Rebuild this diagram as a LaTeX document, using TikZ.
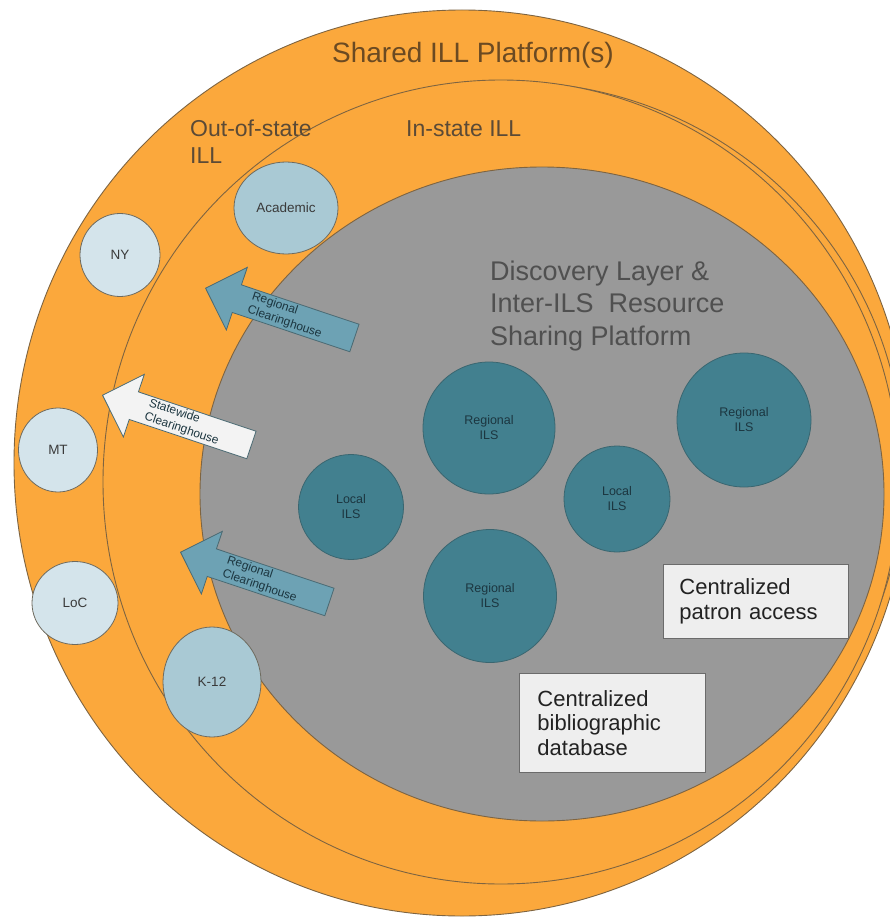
\documentclass[tikz,border=0pt]{standalone}
\usepackage{fontspec}
\setmainfont{Liberation Sans}
\usetikzlibrary{shapes.geometric,shapes.arrows}
\definecolor{orangefill}{HTML}{FBA83C}
\definecolor{rimline}{HTML}{7E6441}
\definecolor{grayfill}{HTML}{999999}
\definecolor{tealfill}{HTML}{42808F}
\definecolor{tealline}{HTML}{3A6670}
\definecolor{tealtext}{HTML}{1C3640}
\definecolor{lightfill}{HTML}{D4E4EB}
\definecolor{midfill}{HTML}{A9C9D4}
\definecolor{circline}{HTML}{6E6A5E}
\definecolor{labeltext}{HTML}{3A3A3A}
\definecolor{arrowfill}{HTML}{6DA2B4}
\definecolor{arrowline}{HTML}{4B6A73}
\definecolor{whitearrow}{HTML}{F3F3F3}
\definecolor{boxfill}{HTML}{EEEEEE}
\definecolor{boxline}{HTML}{6B6B6B}
\definecolor{boxtext}{HTML}{222222}
\definecolor{titletext}{HTML}{505050}
\definecolor{browntext}{HTML}{6B4A22}
\definecolor{ringtext}{HTML}{5B4A36}
\begin{document}
\begin{tikzpicture}[x=1pt,y=-1pt,
  ring/.style={ellipse, draw=rimline, line width=0.9pt, inner sep=0pt, outer sep=0pt},
  lightc/.style={ellipse, draw=circline, line width=0.8pt, fill=lightfill, inner sep=0pt,
    font=\fontsize{13.5}{15}\selectfont, text=labeltext},
  midc/.style={lightc, fill=midfill},
  tealc/.style={circle, draw=tealline, line width=0.8pt, fill=tealfill, inner sep=0pt,
    align=center, font=\fontsize{12.5}{15}\selectfont, text=tealtext},
  clarrow/.style={single arrow, shape border rotate=180, draw=arrowline, line width=0.8pt,
    fill=arrowfill, minimum height=157pt, minimum width=66pt,
    single arrow head extend=17.5pt, single arrow tip angle=90, inner sep=0.5pt,
    align=left, font=\fontsize{12}{14.5}\selectfont, text=tealtext,
    rotate=-18.5, anchor=tip},
  infobox/.style={draw=boxline, fill=boxfill, line width=0.9pt, align=left,
    font=\fontsize{22}{24.5}\selectfont, text=boxtext}
]
\useasboundingbox (0,0) rectangle (890,920);
\clip (0,0) rectangle (890,920);
% rings
\node[ring, fill=orangefill, minimum width=896pt, minimum height=906pt] (shared) at (462,463) {};
\node[ring, fill=orangefill, minimum width=784pt, minimum height=776pt] (extra) at (512,470) {};
\node[ring, fill=orangefill, minimum width=796pt, minimum height=804pt] (instate) at (501,482) {};
\node[ring, fill=grayfill, minimum width=684pt, minimum height=654pt] (core) at (542,494) {};
% ring labels
\node[anchor=base, font=\fontsize{28}{32}\selectfont, text=browntext, inner sep=0pt] (sharedlbl) at (473,63) {Shared ILL Platform(s)};
\node[anchor=base west, align=left, font=\fontsize{23}{27}\selectfont, text=ringtext, inner sep=0pt] (outlbl) at (190,164) {Out-of-state\\ILL};
\node[anchor=base west, font=\fontsize{23}{27}\selectfont, text=ringtext, inner sep=0pt] (inlbl) at (406,137) {In-state ILL};
\node[anchor=base west, align=left, font=\fontsize{27}{32.5}\selectfont, text=titletext, inner sep=0pt] (title) at (490,345) {Discovery Layer \&\\Inter-ILS~~Resource\\Sharing Platform};
% out-of-state and in-state libraries
\node[lightc, minimum width=80pt, minimum height=83pt] (ny) at (120,255) {NY};
\node[lightc, minimum width=79pt, minimum height=84pt] (mt) at (58,450) {MT};
\node[lightc, minimum width=86pt, minimum height=83pt] (loc) at (75,603) {LoC};
\node[midc, minimum width=104pt, minimum height=92pt] (acad) at (286,208) {Academic};
\node[midc, minimum width=98pt, minimum height=110pt] (k12) at (212,682) {K-12};
% ILS circles
\node[tealc, minimum size=132pt] (reg1) at (489,428) {Regional\\ILS};
\node[tealc, minimum size=134pt] (reg3) at (744,420) {Regional\\ILS};
\node[tealc, minimum size=133pt] (reg2) at (490,596) {Regional\\ILS};
\node[tealc, minimum size=105pt] (loc1) at (351,507) {Local\\ILS};
\node[tealc, minimum size=106pt] (loc2) at (617,499) {Local\\ILS};
% clearinghouse arrows
\node[clarrow] (rch1) at (205,288) {Regional\\Clearinghouse};
\node[clarrow, fill=whitearrow] (sch) at (102,395) {Statewide\\Clearinghouse};
\node[clarrow] (rch2) at (180,552) {Regional\\Clearinghouse};
% boxes
\node[infobox, anchor=north west, minimum width=185pt, minimum height=74pt, text width=153pt, inner xsep=16pt, inner ysep=0pt] (patron) at (663,564) {Centralized\\patron access};
\node[infobox, anchor=north west, minimum width=186pt, minimum height=99pt, text width=150pt, inner xsep=18pt, inner ysep=0pt] (biblio) at (519,673) {Centralized\\bibliographic\\database};
\end{tikzpicture}
\end{document}
